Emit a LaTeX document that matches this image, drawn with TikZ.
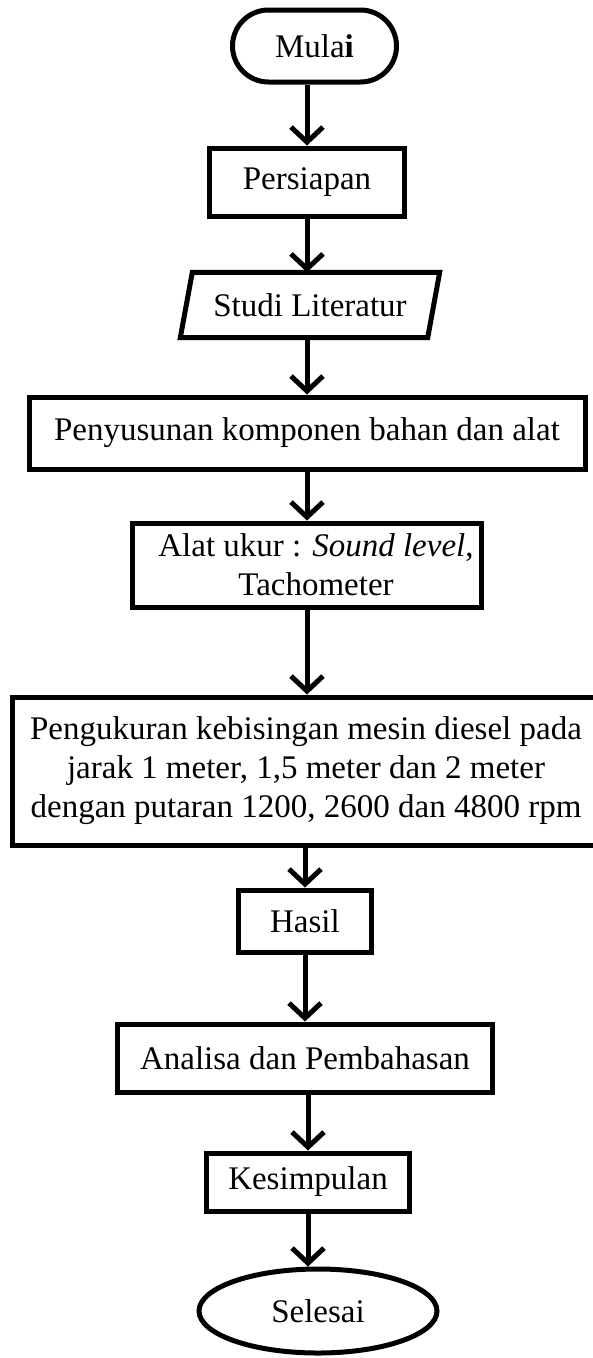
\documentclass[tikz,border=0pt]{standalone}
\usepackage{fontspec}
\setmainfont{Liberation Serif}
\usetikzlibrary{arrows.meta,shapes.geometric}
\begin{document}
\begin{tikzpicture}[x=1pt,y=-1pt,
  every node/.style={font=\fontsize{33}{39}\selectfont},
  boxline/.style={line width=5pt},
  procbox/.style={draw, boxline, rectangle, inner sep=0pt, align=center},
  arr/.style={line width=5pt, -{Straight Barb[length=15pt,width=32pt]}}]
\useasboundingbox (0,0) rectangle (593,1358);
\node[procbox, rounded corners=36pt, minimum width=164pt, minimum height=72pt] (mulai) at (314.5,46) {Mula\textbf{i}};
\node[procbox, minimum width=195pt, minimum height=68pt] (persiapan) at (307,182) {Persiapan};
\node[inner sep=0pt, minimum width=247pt, minimum height=65pt] (studi) at (310,305) {Studi Literatur};
\draw[boxline, line join=miter] ([xshift=6pt]studi.north west) -- ([xshift=6pt]studi.north east) -- ([xshift=-6pt]studi.south east) -- ([xshift=-6pt]studi.south west) -- cycle;
\node[procbox, minimum width=556pt, minimum height=72pt] (penyusunan) at (307,433) {Penyusunan komponen bahan dan alat};
\node[procbox, minimum width=349pt, minimum height=84pt] (alat) at (307,565) {\hspace*{18pt}Alat ukur : \textit{Sound level},\\\hspace*{18pt}Tachometer};
\node[procbox, minimum width=588pt, minimum height=148pt] (pengukuran) at (306,771) {Pengukuran kebisingan mesin diesel pada\\jarak 1 meter, 1,5 meter dan 2 meter\\dengan putaran 1200, 2600 dan 4800 rpm};
\node[procbox, minimum width=133pt, minimum height=62pt] (hasil) at (305,921) {Hasil};
\node[procbox, minimum width=375pt, minimum height=68pt] (analisa) at (305,1058) {Analisa dan Pembahasan};
\node[procbox, minimum width=203pt, minimum height=58pt] (kesimpulan) at (308,1182) {Kesimpulan};
\node[draw, boxline, ellipse, inner sep=0pt, minimum width=238pt, minimum height=84pt] (selesai) at (318,1311) {Selesai};
\draw[arr] (persiapan.north |- mulai.south) -- (persiapan.north);
\draw[arr] (persiapan.south) -- (persiapan.south |- studi.north);
\draw[arr] (penyusunan.north |- studi.south) -- (penyusunan.north);
\draw[arr] (penyusunan.south) -- (penyusunan.south |- alat.north);
\draw[arr] (alat.south) -- (alat.south |- pengukuran.north);
\draw[arr] (hasil.north |- pengukuran.south) -- (hasil.north);
\draw[arr] (hasil.south) -- (hasil.south |- analisa.north);
\draw[arr] (kesimpulan.north |- analisa.south) -- (kesimpulan.north);
\draw[arr] (kesimpulan.south) -- (kesimpulan.south |- selesai.north);
\end{tikzpicture}
\end{document}
